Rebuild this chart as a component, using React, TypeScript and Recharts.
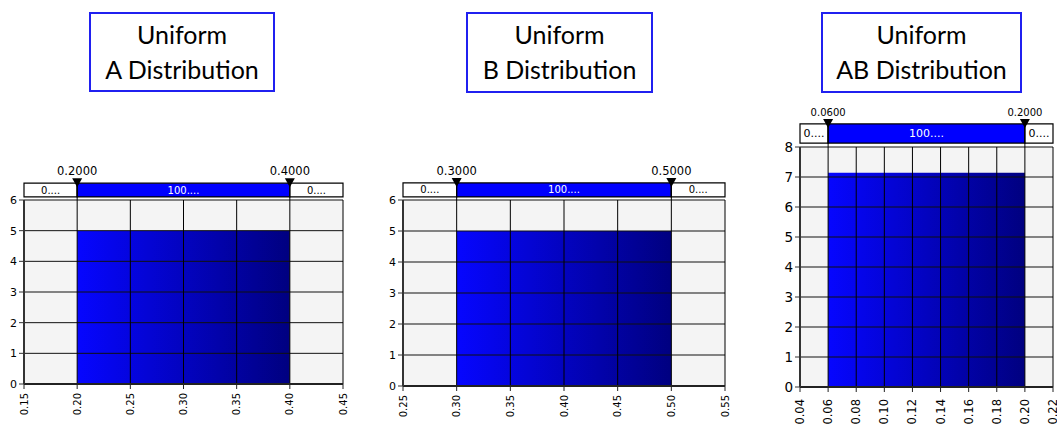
import React from "react";
import {
  ComposedChart,
  Area,
  XAxis,
  YAxis,
  ReferenceLine,
  ReferenceArea,
  ReferenceDot,
} from "recharts";

// ---------- data ----------
const titleA = ["Uniform", "A Distribution"];
const titleB = ["Uniform", "B Distribution"];
const titleAB = ["Uniform", "AB Distribution"];

const xTicksA = [0.15, 0.2, 0.25, 0.3, 0.35, 0.4, 0.45];
const yTicksA = [0, 1, 2, 3, 4, 5, 6];
const barXA = [0.2, 0.4];
const barYA = [5, 5];

const xTicksB = [0.25, 0.3, 0.35, 0.4, 0.45, 0.5, 0.55];
const yTicksB = [0, 1, 2, 3, 4, 5, 6];
const barXB = [0.3, 0.5];
const barYB = [5, 5];

const xTicksAB = [0.04, 0.06, 0.08, 0.1, 0.12, 0.14, 0.16, 0.18, 0.2, 0.22];
const yTicksAB = [0, 1, 2, 3, 4, 5, 6, 7, 8];
const barXAB = [0.06, 0.2];
const barYAB = [7.1429, 7.1429];

const segLabels = ["0....", "100....", "0...."];

type Spec = {
  id: string;
  title: string[];
  titleBox: { left: number; top: number; width: number; height: number };
  left: number;
  top: number;
  width: number;
  height: number;
  margin: { top: number; right: number; bottom: number; left: number };
  xTicks: number[];
  yTicks: number[];
  barX: number[];
  barY: number[];
  delimY: [number, number];
  markerFont: number;
  segFont: number;
  xTickFont: number;
  yTickFont: number;
  xTickGap: number;
};

const specs: Spec[] = [
  {
    id: "A",
    title: titleA,
    titleBox: { left: 89, top: 12, width: 186, height: 80 },
    left: 0,
    top: 160,
    width: 350,
    height: 268,
    margin: { top: 40, right: 7, bottom: 4, left: 4 },
    xTicks: xTicksA,
    yTicks: yTicksA,
    barX: barXA,
    barY: barYA,
    delimY: [6.1, 6.55],
    markerFont: 11.5,
    segFont: 10,
    xTickFont: 10,
    yTickFont: 11,
    xTickGap: 2,
  },
  {
    id: "B",
    title: titleB,
    titleBox: { left: 466, top: 12, width: 187, height: 81 },
    left: 380,
    top: 160,
    width: 350,
    height: 268,
    margin: { top: 40, right: 5, bottom: 2, left: 3 },
    xTicks: xTicksB,
    yTicks: yTicksB,
    barX: barXB,
    barY: barYB,
    delimY: [6.1, 6.55],
    markerFont: 11.5,
    segFont: 10,
    xTickFont: 10,
    yTickFont: 11,
    xTickGap: 2,
  },
  {
    id: "AB",
    title: titleAB,
    titleBox: { left: 821, top: 12, width: 201, height: 81 },
    left: 776,
    top: 100,
    width: 281,
    height: 328,
    margin: { top: 47, right: 4, bottom: 1, left: 4 },
    xTicks: xTicksAB,
    yTicks: yTicksAB,
    barX: barXAB,
    barY: barYAB,
    delimY: [8.13, 8.77],
    markerFont: 10,
    segFont: 11,
    xTickFont: 11.5,
    yTickFont: 13.5,
    xTickGap: 5,
  },
];

const FONT = "'DejaVu Sans', Verdana, sans-serif";

function Panel({ s }: { s: Spec }) {
  const data = s.barX.map((x, i) => ({ x, y: s.barY[i] }));
  const xMin = s.xTicks[0];
  const xMax = s.xTicks[s.xTicks.length - 1];
  const yMin = s.yTicks[0];
  const yMax = s.yTicks[s.yTicks.length - 1];
  const low = s.barX[0];
  const high = s.barX[1];
  const [d1, d2] = s.delimY;

  const XTick = (p: any) => {
    const { x, y, payload } = p;
    const ty = y + s.xTickGap;
    return (
      <text
        x={x}
        y={ty}
        transform={`rotate(-90 ${x} ${ty})`}
        textAnchor="end"
        dominantBaseline="central"
        fontSize={s.xTickFont}
        fontFamily={FONT}
        fill="#000"
      >
        {Number(payload.value).toFixed(2)}
      </text>
    );
  };

  const Marker = (label: string) => (p: any) => {
    const { cx, cy } = p;
    return (
      <g>
        <path
          d={`M${cx - 5},${cy - 5} L${cx + 5},${cy - 5} L${cx},${cy + 4} Z`}
          fill="#000"
        />
        <text
          x={cx}
          y={cy - 8}
          textAnchor="middle"
          fontSize={s.markerFont}
          fontFamily={FONT}
          fill="#000"
        >
          {label}
        </text>
      </g>
    );
  };

  const segs = [
    { x1: xMin, x2: low, fill: "#ffffff", color: "#000", label: segLabels[0] },
    { x1: low, x2: high, fill: "#0000ff", color: "#ffffff", label: segLabels[1] },
    { x1: high, x2: xMax, fill: "#ffffff", color: "#000", label: segLabels[2] },
  ];

  return (
    <div style={{ position: "absolute", left: s.left, top: s.top }}>
      <ComposedChart width={s.width} height={s.height} data={data} margin={s.margin}>
        <defs>
          <linearGradient id={`grad${s.id}`} x1="0" y1="0" x2="1" y2="0">
            <stop offset="0%" stopColor="#0606ff" />
            <stop offset="100%" stopColor="#000080" />
          </linearGradient>
        </defs>
        <XAxis
          type="number"
          dataKey="x"
          domain={[xMin, xMax]}
          ticks={s.xTicks}
          allowDataOverflow
          interval={0}
          height={40}
          tickSize={5}
          tick={XTick}
          axisLine={{ stroke: "#222", strokeWidth: 2 }}
          tickLine={{ stroke: "#222" }}
        />
        <YAxis
          type="number"
          domain={[yMin, yMax]}
          ticks={s.yTicks}
          allowDataOverflow
          interval={0}
          width={20}
          tickSize={5}
          tick={{ fontSize: s.yTickFont, fontFamily: FONT, fill: "#000" }}
          axisLine={{ stroke: "#333", strokeWidth: 2 }}
          tickLine={{ stroke: "#333" }}
        />
        <ReferenceArea
          x1={xMin}
          x2={xMax}
          y1={yMin}
          y2={yMax}
          fill="#f4f4f4"
          fillOpacity={1}
          stroke="none"
        />
        <Area
          type="linear"
          dataKey="y"
          baseValue={0}
          stroke="none"
          fill={`url(#grad${s.id})`}
          fillOpacity={1}
          dot={false}
          activeDot={false}
          isAnimationActive={false}
        />
        {s.yTicks.map((t) => (
          <ReferenceLine key={`h${t}`} y={t} stroke="#111" strokeWidth={1} />
        ))}
        {s.xTicks.map((t) => (
          <ReferenceLine key={`v${t}`} x={t} stroke="#000" strokeWidth={1} />
        ))}
        <ReferenceLine y={0} stroke="#222" strokeWidth={2} />
        <ReferenceLine x={xMin} stroke="#333" strokeWidth={2} />
        {segs.map((g, i) => (
          <ReferenceArea
            key={`s${i}`}
            x1={g.x1}
            x2={g.x2}
            y1={d1}
            y2={d2}
            ifOverflow="visible"
            fill={g.fill}
            fillOpacity={1}
            stroke="#000"
            strokeWidth={1.2}
            label={{
              value: g.label,
              position: "center",
              fill: g.color,
              fontSize: s.segFont,
              fontFamily: FONT,
            }}
          />
        ))}
        <ReferenceLine
          segment={[
            { x: low, y: yMax },
            { x: low, y: d2 },
          ]}
          ifOverflow="visible"
          stroke="#000"
        />
        <ReferenceLine
          segment={[
            { x: high, y: yMax },
            { x: high, y: d2 },
          ]}
          ifOverflow="visible"
          stroke="#000"
        />
        <ReferenceDot x={low} y={d2} r={5} ifOverflow="visible" shape={Marker(low.toFixed(4))} />
        <ReferenceDot x={high} y={d2} r={5} ifOverflow="visible" shape={Marker(high.toFixed(4))} />
      </ComposedChart>
    </div>
  );
}

function TitleBox({ s }: { s: Spec }) {
  const b = s.titleBox;
  return (
    <div
      style={{
        position: "absolute",
        left: b.left,
        top: b.top,
        width: b.width,
        height: b.height,
        boxSizing: "border-box",
        border: "2px solid #2020f0",
        background: "#fff",
        fontFamily: "Lato, 'Open Sans', sans-serif",
        fontWeight: 400,
        fontSize: 25,
        lineHeight: "35px",
        textAlign: "center",
        color: "#000",
        paddingTop: 3,
      }}
    >
      <div>{s.title[0]}</div>
      <div>{s.title[1]}</div>
    </div>
  );
}

export default function App() {
  return (
    <div
      style={{
        position: "absolute",
        left: 0,
        top: 0,
        width: 1057,
        height: 428,
        background: "#fff",
        overflow: "hidden",
      }}
    >
      {specs.map((s) => (
        <TitleBox key={`t${s.id}`} s={s} />
      ))}
      {specs.map((s) => (
        <Panel key={`p${s.id}`} s={s} />
      ))}
    </div>
  );
}
